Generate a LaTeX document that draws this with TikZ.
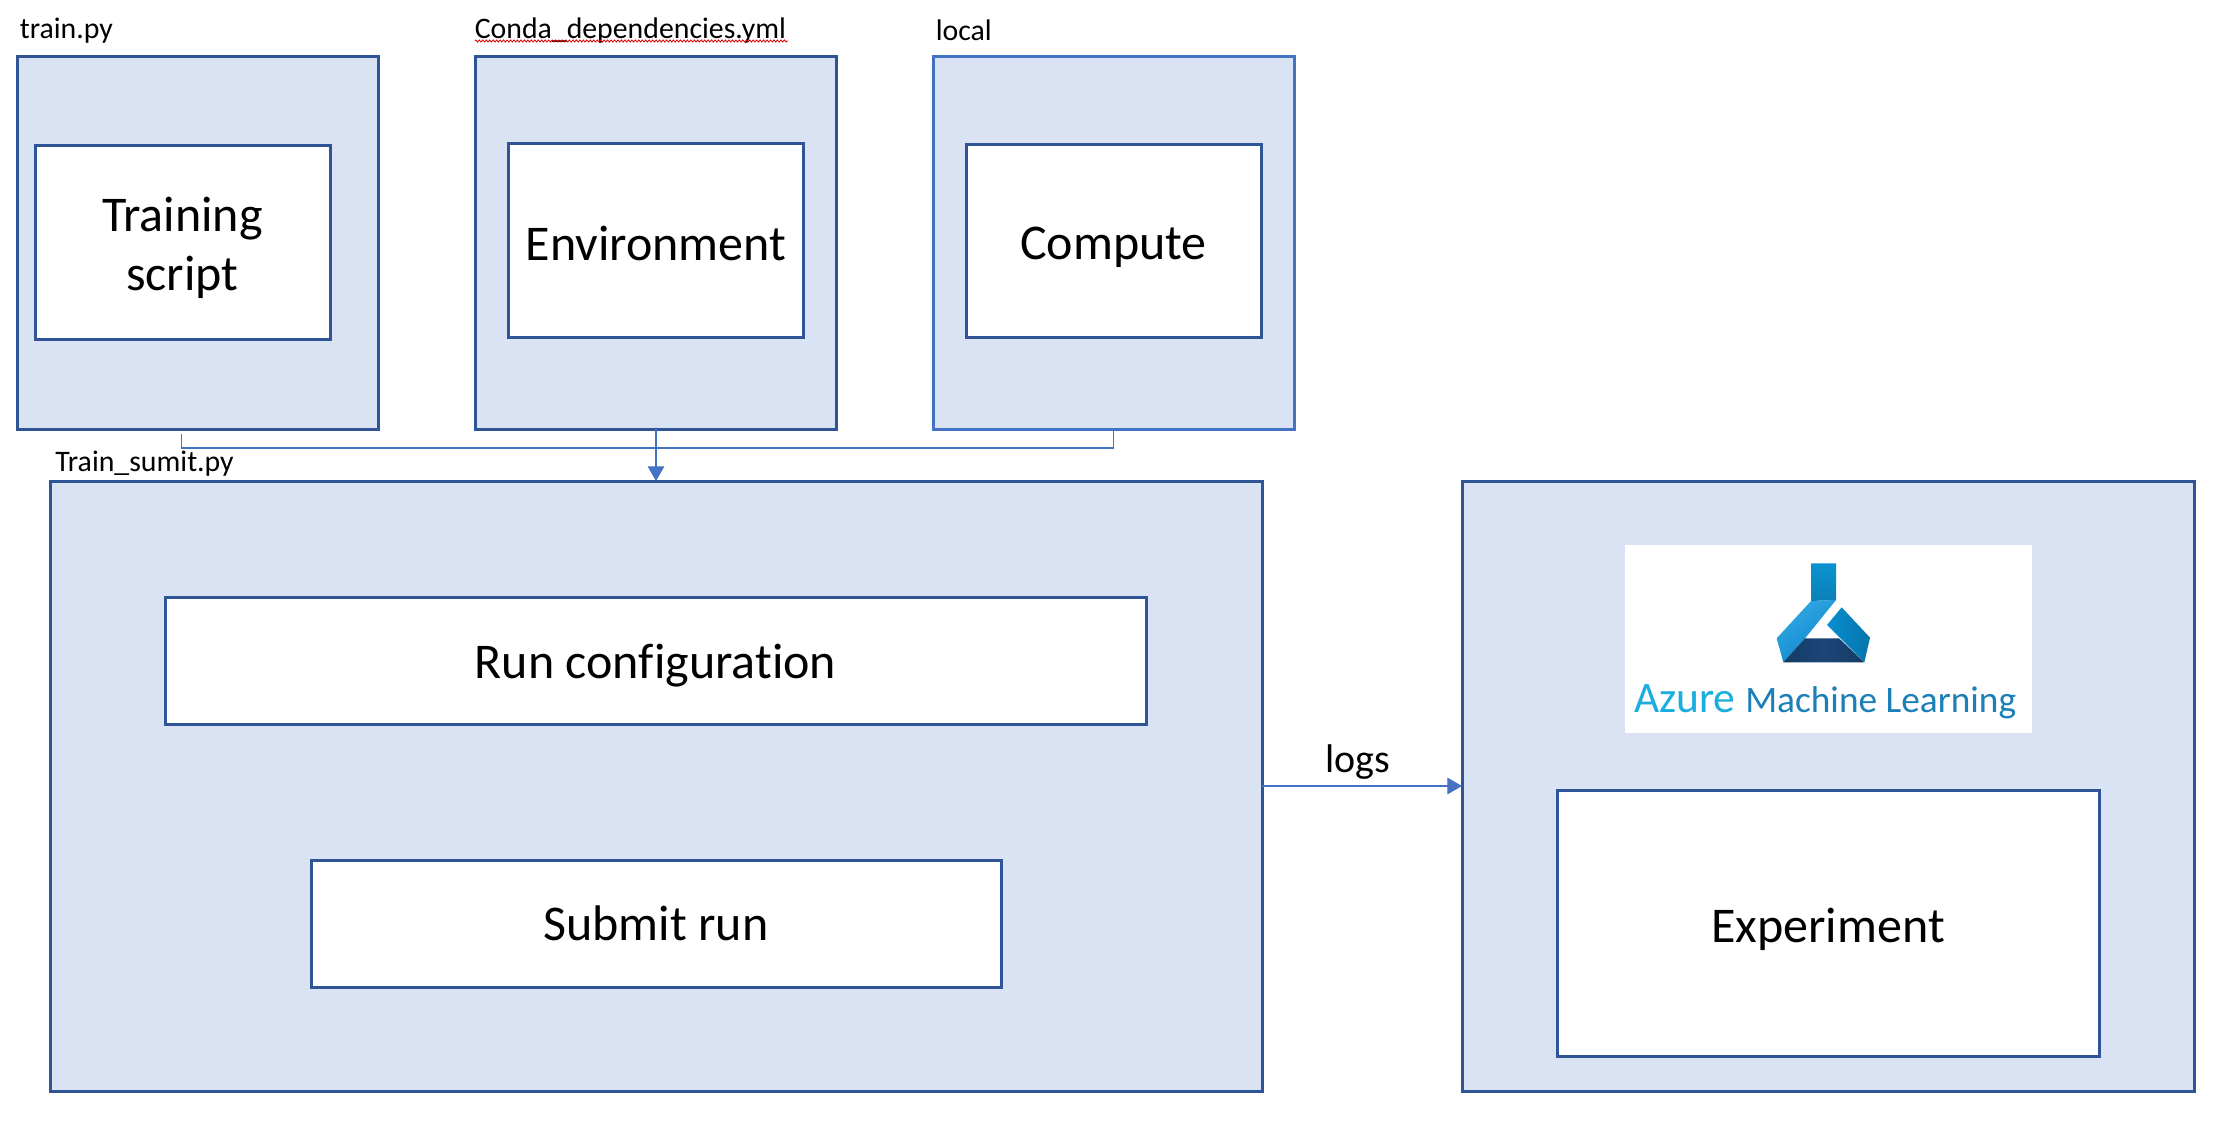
\documentclass[tikz,border=0pt]{standalone}
\usepackage{fontspec}
\setmainfont{Carlito}[Ligatures=NoCommon]
\usetikzlibrary{arrows.meta,decorations.pathmorphing}
\definecolor{boxfill}{HTML}{DAE3F3}
\definecolor{boxline}{HTML}{2F5597}
\definecolor{accent}{HTML}{4472C4}
\definecolor{flaskA}{HTML}{35A8E4}
\definecolor{flaskB}{HTML}{0A86CC}
\definecolor{flaskC}{HTML}{0A93CF}
\definecolor{flaskD}{HTML}{0B7FB8}
\definecolor{flaskE}{HTML}{0A8FCE}
\definecolor{flaskF}{HTML}{0474AE}
\definecolor{flaskG}{HTML}{123C63}
\definecolor{flaskH}{HTML}{1D4579}
\definecolor{azuretxt}{HTML}{1AADDF}
\definecolor{mltxt}{HTML}{1B7FB8}
\newcommand{\bigtxt}{\fontsize{37.5}{44.25}\selectfont}
\newcommand{\smalltxt}{\fontsize{22.35}{26}\selectfont}
\tikzset{
  x=0.75pt,y=-0.75pt,
  rectbox/.style 2 args={rectangle,inner sep=0pt,outer sep=0pt,minimum width=#1*0.75pt,minimum height=#2*0.75pt},
  basedrop/.style={text depth=10pt,text height=10pt+2*#1*0.75pt},
  outerbox/.style={draw=boxline,fill=boxfill,line width=2.25pt},
  outerlight/.style={draw=accent,fill=boxfill,line width=2.25pt},
  innerbox/.style={draw=boxline,fill=white,line width=2.25pt,font=\bigtxt,align=center,text=black},
  filelabel/.style={anchor=base west,inner sep=0pt,font=\smalltxt,text=black},
  wire/.style={draw=accent,line width=0.8pt},
  wirearrow/.style={wire,-{Triangle[length=11pt,width=12.5pt,fill=accent]}},
}
\begin{document}
\begin{tikzpicture}
\useasboundingbox (0,0) rectangle (2225,1124);
% upper boxes
\node[outerbox,rectbox={361}{372}] (scriptbox) at (197.5,243) {};
\node[innerbox,rectbox={295}{194},text height=82pt,text depth=10pt] (training) at (182.5,242) {Training\\script};
\node[outerbox,rectbox={361}{372}] (envbox) at (656,243) {};
\node[innerbox,rectbox={295}{194},basedrop=20.5] (environment) at (656,240) {Environment};
\node[outerlight,rectbox={361}{372}] (compbox) at (1113.5,243) {};
\node[innerbox,rectbox={295}{193},basedrop=19] (compute) at (1113.5,240.5) {Compute};
% file labels
\node[filelabel] (trainlabel) at (19.5,38.5) {train.py};
\node[filelabel] (condalabel) at (474.5,38.5) {Conda\_dependencies.yml};
\node[filelabel] (locallabel) at (935.5,41) {local};
\node[filelabel] (sumitlabel) at (55,471.5) {Train\_sumit.py};
\coordinate (squigA) at (475,41);
\coordinate (squigB) at (788,41);
\draw[red!85!black,line width=0.6pt,decorate,decoration={zigzag,amplitude=0.8pt,segment length=2.6pt}] (squigA) -- (squigB);
% lower left
\node[outerbox,rectbox={1212}{610}] (main) at (656,786) {};
\node[innerbox,rectbox={981}{127},basedrop=18] (runconf) at (655.5,660.5) {Run configuration};
\node[innerbox,rectbox={690}{127},basedrop=17] (submit) at (656,923.5) {Submit run};
% lower right
\node[outerbox,rectbox={732}{610}] (azure) at (1828,786) {};
\node[fill=white,inner sep=0pt,outer sep=0pt,minimum width=305.25pt,minimum height=141pt] (logo) at (1828.5,639) {};
\node[innerbox,rectbox={542}{266},basedrop=19] (experiment) at (1828,923) {Experiment};
% flask
\begin{scope}[shift={(1620,540)},x=0.25pt,y=-0.25pt]
  \shade[left color=flaskA,right color=flaskB,shading angle=35] (573,183) -- (648,180) -- (555,295) -- (490,367) -- (470,295) -- cycle;
  \shade[top color=flaskC,bottom color=flaskD] (573,70) -- (648,70) -- (648,180) -- (573,183) -- cycle;
  \shade[left color=flaskE,right color=flaskF] (665,202) -- (750,293) -- (733,367) -- (621,255) -- cycle;
  \shade[left color=flaskG,right color=flaskG,middle color=flaskH] (555,295) -- (657,295) -- (733,367) -- (490,367) -- cycle;
  \node[anchor=base west,inner sep=0pt,font=\fontsize{32.6}{36}\selectfont,text=azuretxt] (azureword) at (42,518) {Azure};
  \node[anchor=base west,inner sep=0pt,font=\fontsize{28}{32}\selectfont,text=mltxt] (mlword) at (375,518) {Machine Learning};
\end{scope}
% connectors
\coordinate (wirestart) at (181.5,434);
\coordinate (bus) at (656,448);
\draw[wire] (wirestart) |- (bus) -| (compbox.south);
\draw[wirearrow] (envbox.south) -- (main.north);
\draw[wirearrow] (main.east) -- (main.east -| azure.west) node[pos=0.48,above=4.5pt,font=\fontsize{30}{36}\selectfont,text=black,inner sep=0pt] (logslabel) {logs};
\end{tikzpicture}
\end{document}
